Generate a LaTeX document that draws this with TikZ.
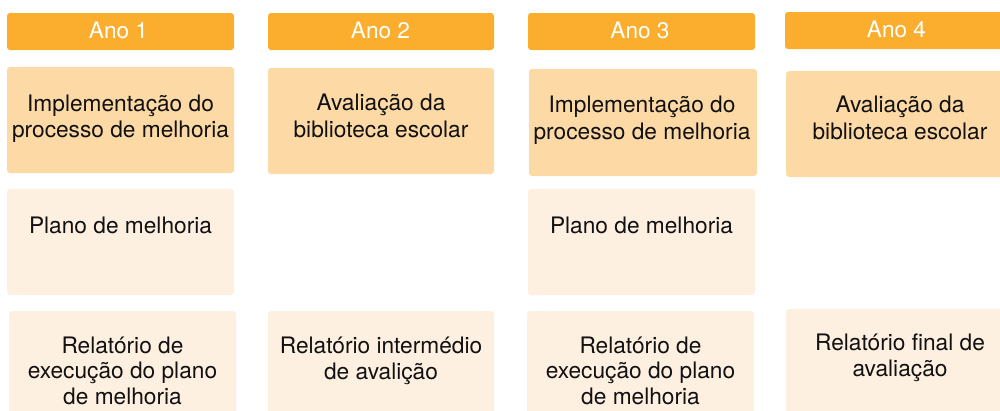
\documentclass[tikz,border=0pt]{standalone}
\usepackage{fontspec}
\setmainfont{TeX Gyre Heros}
\definecolor{hdr}{HTML}{FBAD2E}
\definecolor{midc}{HTML}{FDD9A5}
\definecolor{lightc}{HTML}{FEF0E1}
\definecolor{ink}{HTML}{111111}
\begin{document}
\begin{tikzpicture}[x=1pt,y=-1pt,
  boxbase/.style={rounded corners=3pt},
  hdrbox/.style={boxbase,fill=hdr},
  midbox/.style={boxbase,fill=midc},
  lightbox/.style={boxbase,fill=lightc},
  hdrtxt/.style={anchor=base,inner sep=0pt,text=white,font=\fontsize{22.6}{25}\selectfont},
  bodytxt/.style={anchor=base,inner sep=0pt,text=ink,align=center,font=\fontsize{22.7}{25.2}\selectfont},
  midtxt/.style={bodytxt,font=\fontsize{22.7}{26.5}\selectfont}]
\useasboundingbox (0,0) rectangle (1000,410);
% headers
\path[hdrbox] (7,13) rectangle (234,50) coordinate (h1);
\path[hdrbox] (268,13) rectangle (494,50) coordinate (h2);
\path[hdrbox] (528,13) rectangle (755,50) coordinate (h3);
\path[hdrbox] (785,12) rectangle (1012,49) coordinate (h4);
\node[hdrtxt] (t1) at (118.5,38) {Ano 1};
\node[hdrtxt] (t2) at (380.5,38) {Ano 2};
\node[hdrtxt] (t3) at (640,38) {Ano 3};
\node[hdrtxt] (t4) at (896.5,37) {Ano 4};
% row 2
\path[midbox] (7,67) rectangle (234,173);
\path[midbox] (268,68) rectangle (494,174);
\path[midbox] (529,69) rectangle (757,176);
\path[midbox] (786,71) rectangle (1012,177);
\node[midtxt] (a1) at (120.5,137.7) {Implementação do\\processo de melhoria};
\node[midtxt] (a2) at (381,137) {Avaliação da\\biblioteca escolar};
\node[midtxt] (a3) at (642,139) {Implementação do\\processo de melhoria};
\node[midtxt] (a4) at (900,139) {Avaliação da\\biblioteca escolar};
% row 3
\path[lightbox] (7,189) rectangle (234,295);
\path[lightbox] (528,189) rectangle (755,295);
\node[bodytxt] (b1) at (120.5,233) {Plano de melhoria};
\node[bodytxt] (b3) at (641.5,233) {Plano de melhoria};
% row 4
\path[lightbox] (9,311) rectangle (236,420);
\path[lightbox] (268,311) rectangle (494,420);
\path[lightbox] (527,311) rectangle (754,420);
\path[lightbox] (786,309) rectangle (1012,420);
\node[bodytxt] (c1) at (122.5,404) {Relatório de\\execução do plano\\de melhoria};
\node[bodytxt] (c2) at (381,379) {Relatório intermédio\\de avalição};
\node[bodytxt] (c3) at (640.5,404) {Relatório de\\execução do plano\\de melhoria};
\node[bodytxt] (c4) at (900,376) {Relatório final de\\avaliação};
\end{tikzpicture}
\end{document}
